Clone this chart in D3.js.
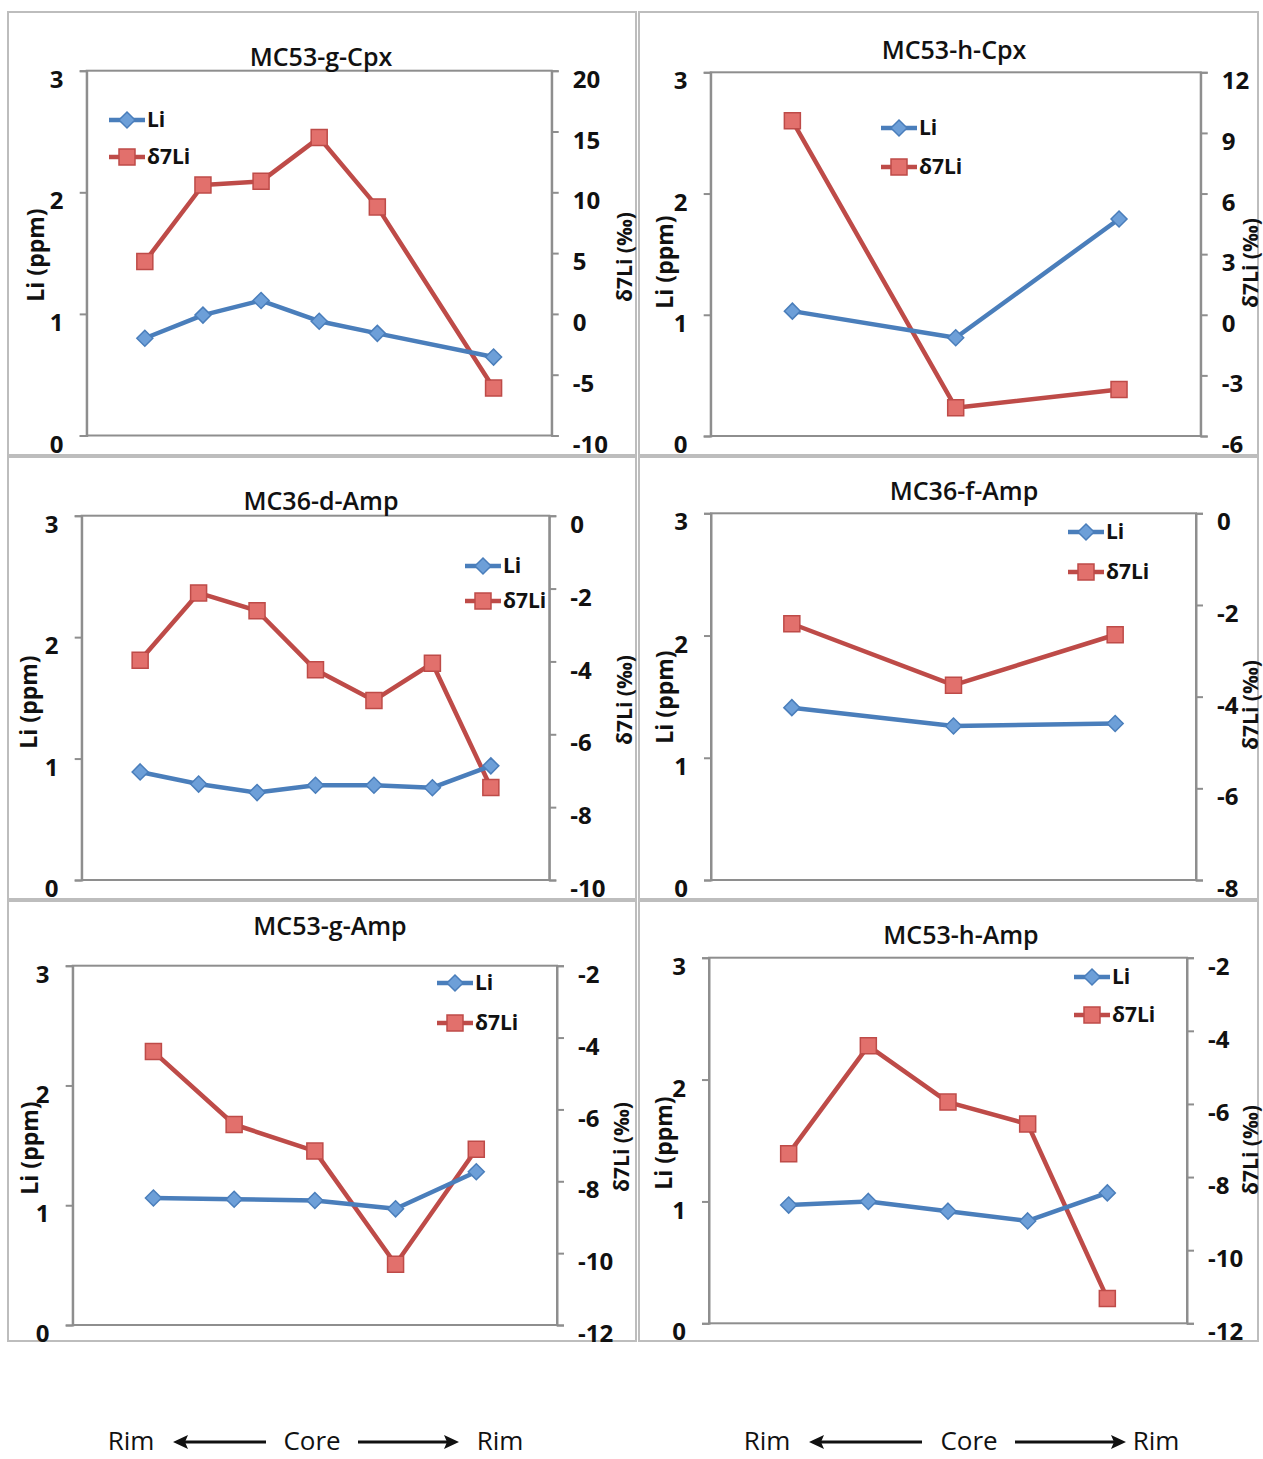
<!DOCTYPE html>
<html><head><meta charset="utf-8">
<script src="https://cdn.jsdelivr.net/npm/d3@7"></script>
<style>
html,body{margin:0;padding:0;background:#fff;}
svg text{font-family:"Open Sans","Noto Sans",sans-serif;fill:#111;}
</style></head><body>
<svg id="chart" width="1263" height="1459"></svg>
<script>
// ---------- data ----------
const titles = ["MC53-g-Cpx","MC53-h-Cpx","MC36-d-Amp","MC36-f-Amp","MC53-g-Amp","MC53-h-Amp"];
const pointPositions = [[1,2,3,4,5,7],[1,3,5],[1,2,3,4,5,6,7],[1,3,5],[1,2,3,4,5],[1,2,3,4,5]];
const positionMax = [8,6,8,6,6,6];
const liValues = [
  [0.80,0.99,1.11,0.94,0.84,0.645],
  [1.03,0.81,1.79],
  [0.89,0.79,0.72,0.78,0.78,0.76,0.94],
  [1.41,1.26,1.28],
  [1.06,1.05,1.04,0.97,1.28],
  [0.97,1.00,0.92,0.84,1.07]
];
const d7LiValues = [
  [4.3,10.6,10.9,14.5,8.8,-6.1],
  [9.6,-4.6,-3.7],
  [-3.97,-2.12,-2.61,-4.23,-5.07,-4.05,-7.46],
  [-2.41,-3.75,-2.65],
  [-4.39,-6.42,-7.16,-10.31,-7.11],
  [-7.36,-4.41,-5.95,-6.55,-11.32]
];
const liTicks = [0,1,2,3];
const d7LiTicks = [
  [-10,-5,0,5,10,15,20],
  [-6,-3,0,3,6,9,12],
  [-10,-8,-6,-4,-2,0],
  [-8,-6,-4,-2,0],
  [-12,-10,-8,-6,-4,-2],
  [-12,-10,-8,-6,-4,-2]
];
const seriesNames = ["Li","δ7Li"];
const leftAxisTitle = "Li (ppm)";
const rightAxisTitle = "δ7Li (‰)";
const bottomWords = ["Rim","Core","Rim"];

// ---------- layout ----------
const layout = [
  {box:[8,12,636,455],   plot:[86.7,551.7,70.7,435.5], title:[321,66],  liLab:[35,255],   dLab:[624,257],   leg:[109,120,157]},
  {box:[639,12,1258,455],plot:[710.7,1200.7,72.3,436], title:[954,59],  liLab:[664,262],  dLab:[1250,263],  leg:[881,128,167]},
  {box:[8,457,636,899],  plot:[81.7,549.3,515.7,880],  title:[321,510], liLab:[28,702],   dLab:[624,700],   leg:[465,566,601]},
  {box:[639,457,1258,899],plot:[711,1196,513.3,880],   title:[964,500], liLab:[664,697],  dLab:[1250,705],  leg:[1068,532,572]},
  {box:[8,901,636,1341], plot:[72.7,557,965.7,1325],   title:[330,935], liLab:[29,1148],  dLab:[621,1147],  leg:[437,983,1023]},
  {box:[639,901,1258,1341],plot:[709,1187,957.7,1323.3],title:[961,944],liLab:[663,1143], dLab:[1250,1150], leg:[1074,977,1015]}
];

const BLUE = "#4a7ebb", BLUE_FILL = "#6d9fd8";
const RED = "#be4b48", RED_FILL = "#e2706c";
const AXIS = "#8e8e8e";

const svg = d3.select("#chart");

function diamond(sel){ sel.attr("d","M0,-8L8,0L0,8L-8,0Z").attr("fill",BLUE_FILL).attr("stroke",BLUE).attr("stroke-width",1.5); }
function square(sel){ sel.attr("d","M-8,-8H8V8H-8Z").attr("fill",RED_FILL).attr("stroke",RED).attr("stroke-width",1.5); }
const fmt = d => String(d);

layout.forEach((L,i)=>{
  const g = svg.append("g");
  const [bx0,by0,bx1,by1] = L.box;
  g.append("rect").attr("x",bx0).attr("y",by0).attr("width",bx1-bx0).attr("height",by1-by0)
    .attr("fill","#fff").attr("stroke","#bdbdbd").attr("stroke-width",2);

  const [pl,pr,pt,pb] = L.plot;
  const x = d3.scaleLinear().domain([0,positionMax[i]]).range([pl,pr]);
  const yL = d3.scaleLinear().domain([0,3]).range([pb,pt]);
  const dT = d7LiTicks[i];
  const yR = d3.scaleLinear().domain([dT[0],dT[dT.length-1]]).range([pb,pt]);

  g.append("rect").attr("x",pl).attr("y",pt).attr("width",pr-pl).attr("height",pb-pt)
    .attr("fill","none").attr("stroke",AXIS).attr("stroke-width",2);

  const la = d3.axisLeft(yL).tickValues(liTicks).tickSize(7).tickFormat(fmt);
  const lag = g.append("g").attr("transform",`translate(${pl},0)`).call(la);
  lag.select(".domain").attr("stroke",AXIS).attr("stroke-width",2);
  lag.selectAll(".tick line").attr("stroke",AXIS).attr("stroke-width",2);
  lag.selectAll(".tick text").attr("font-size",24).attr("font-weight",700).attr("fill","#111")
     .attr("text-anchor","middle").attr("x",-30).attr("dy","0.9em").attr("y",-5);

  const ra = d3.axisRight(yR).tickValues(dT).tickSize(7).tickFormat(fmt);
  const rag = g.append("g").attr("transform",`translate(${pr},0)`).call(ra);
  rag.select(".domain").attr("stroke",AXIS).attr("stroke-width",2);
  rag.selectAll(".tick line").attr("stroke",AXIS).attr("stroke-width",2);
  rag.selectAll(".tick text").attr("font-size",24).attr("font-weight",700).attr("fill","#111")
     .attr("text-anchor","start").attr("x",21).attr("dy","0.9em").attr("y",-5);

  g.append("text").attr("x",L.title[0]).attr("y",L.title[1]).attr("text-anchor","middle")
    .attr("font-size",25).attr("font-weight",600).text(titles[i]);

  g.append("text").attr("transform",`translate(${L.liLab[0]},${L.liLab[1]}) rotate(-90)`)
    .attr("text-anchor","middle").attr("dominant-baseline","central")
    .attr("font-size",23).attr("font-weight",700).text(leftAxisTitle);
  g.append("text").attr("transform",`translate(${L.dLab[0]},${L.dLab[1]}) rotate(-90)`)
    .attr("text-anchor","middle").attr("dominant-baseline","central")
    .attr("font-size",21).attr("font-weight",700).text(rightAxisTitle);

  const liData = pointPositions[i].map((p,k)=>({p, v: liValues[i][k]}));
  const dData = pointPositions[i].map((p,k)=>({p, v: d7LiValues[i][k]}));

  g.append("path").datum(dData).attr("fill","none").attr("stroke",RED).attr("stroke-width",4.5)
    .attr("stroke-linejoin","round").attr("d",d3.line().x(d=>x(d.p)).y(d=>yR(d.v)));
  g.append("path").datum(liData).attr("fill","none").attr("stroke",BLUE).attr("stroke-width",4.5)
    .attr("stroke-linejoin","round").attr("d",d3.line().x(d=>x(d.p)).y(d=>yL(d.v)));

  g.selectAll(".sq").data(dData).enter().append("path").attr("class","sq")
    .attr("transform",d=>`translate(${x(d.p)},${yR(d.v)})`).call(square);
  g.selectAll(".dm").data(liData).enter().append("path").attr("class","dm")
    .attr("transform",d=>`translate(${x(d.p)},${yL(d.v)})`).call(diamond);

  const [lx,ly1,ly2] = L.leg;
  [[ly1,BLUE,diamond,seriesNames[0]],[ly2,RED,square,seriesNames[1]]].forEach(([ly,col,mk,name])=>{
    g.append("line").attr("x1",lx).attr("x2",lx+36).attr("y1",ly).attr("y2",ly).attr("stroke",col).attr("stroke-width",4.5);
    g.append("path").attr("transform",`translate(${lx+18},${ly})`).call(mk);
    g.append("text").attr("x",lx+38).attr("y",ly+7).attr("font-size",21).attr("font-weight",700).text(name);
  });
});

const groups = [
  {words:[131,312,500], arrows:[[266,173],[358,459]]},
  {words:[767,969,1156], arrows:[[922,809],[1015,1126]]}
];
const BASE = 1450, ARROW_Y = 1442;
groups.forEach(G=>{
  G.words.forEach((cx,k)=>{
    svg.append("text").attr("x",cx).attr("y",BASE).attr("text-anchor","middle")
      .attr("font-size",26).attr("font-weight",400).text(bottomWords[k]);
  });
  G.arrows.forEach(([x0,x1])=>{
    const dir = Math.sign(x1-x0);
    svg.append("line").attr("x1",x0).attr("x2",x1-dir*10).attr("y1",ARROW_Y).attr("y2",ARROW_Y)
      .attr("stroke","#111").attr("stroke-width",3);
    svg.append("path").attr("d",`M${x1},${ARROW_Y}L${x1-dir*15},${ARROW_Y-7}L${x1-dir*12},${ARROW_Y}L${x1-dir*15},${ARROW_Y+7}Z`).attr("fill","#111");
  });
});
</script>
</body></html>
